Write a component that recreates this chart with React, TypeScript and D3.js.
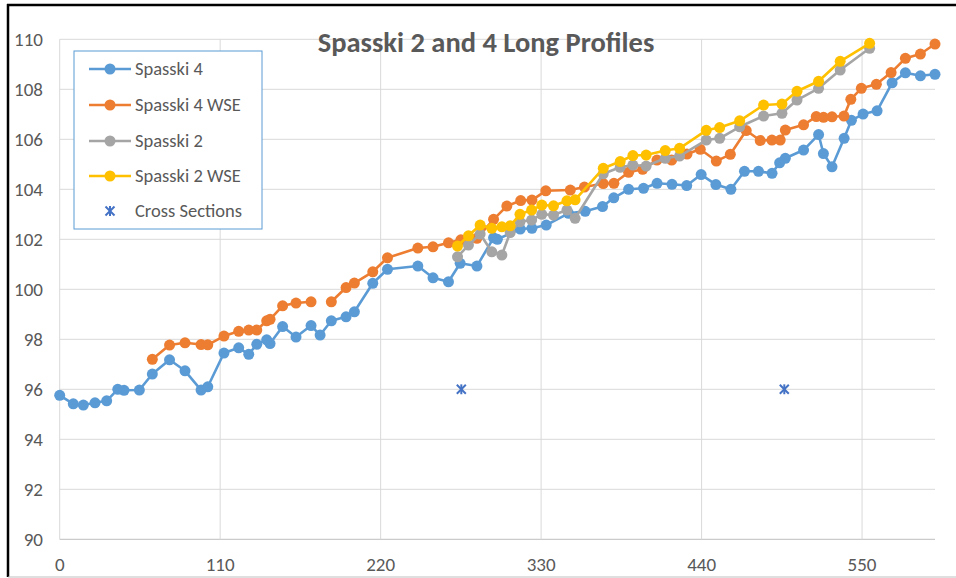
import React from "react";
import * as d3 from "d3";

const s4Station = [0, 9.3, 16.2, 24.2, 32.2, 39.8, 44.1, 54.6, 63.5, 75.3, 85.9, 96.9, 101.5, 112.6, 122.7, 129.6, 135.1, 141.9, 144.2, 152.8, 162, 172.3, 178.5, 186.2, 196.3, 202, 214.6, 224.7, 245.5, 255.9, 266.5, 274.5, 286, 297.4, 300, 315.7, 323.7, 333.5, 348.8, 360.2, 372.1, 379.8, 390, 400.2, 409.5, 419.7, 429.8, 439.7, 449.8, 460.1, 469.4, 479, 488.3, 493.5, 497.4, 509.9, 520.2, 523.5, 529.4, 537.7, 542.7, 550.7, 560.3, 570.6, 579.7, 590, 600];
const s4Elev = [95.76, 95.42, 95.37, 95.46, 95.54, 96.0, 95.96, 95.97, 96.61, 97.18, 96.74, 95.97, 96.1, 97.45, 97.66, 97.4, 97.8, 97.98, 97.83, 98.51, 98.09, 98.55, 98.17, 98.74, 98.9, 99.1, 100.24, 100.8, 100.93, 100.46, 100.3, 101.04, 100.93, 102.06, 102.0, 102.41, 102.44, 102.57, 103.04, 103.12, 103.31, 103.66, 104.0, 104.04, 104.24, 104.2, 104.15, 104.59, 104.19, 104.0, 104.72, 104.72, 104.64, 105.06, 105.24, 105.57, 106.19, 105.43, 104.9, 106.04, 106.76, 107.01, 107.14, 108.26, 108.66, 108.54, 108.6];

const s4WseStation = [63.5, 75.3, 85.9, 96.9, 101.5, 112.6, 122.7, 129.6, 135.1, 141.9, 144.2, 152.8, 162, 172.3, 178.5, 186.2, 196.3, 202, 214.6, 224.7, 245.5, 255.9, 266.5, 275, 286, 297.4, 306.5, 316, 323.7, 333.2, 350, 359.7, 372.6, 379.9, 390, 399.6, 409.4, 419.5, 430, 439.1, 450.1, 459.7, 470.6, 480.2, 488.2, 493.9, 497.4, 509.9, 518.6, 523.6, 529.4, 537.6, 542.3, 549.5, 559.8, 569.9, 579.7, 590, 600];
const s4Wse: (number | null)[] = [97.2, 97.77, 97.86, 97.79, 97.78, 98.13, 98.32, 98.37, 98.37, 98.74, 98.8, 99.34, 99.45, 99.5, null, 99.5, 100.07, 100.25, 100.7, 101.26, 101.65, 101.7, 101.86, 101.98, 102.04, 102.8, 103.33, 103.55, 103.57, 103.94, 103.97, 104.09, 104.23, 104.24, 104.68, 104.8, 105.17, 105.17, 105.41, 105.6, 105.13, 105.4, 106.35, 105.95, 105.97, 105.97, 106.37, 106.58, 106.91, 106.88, 106.9, 106.93, 107.6, 108.04, 108.2, 108.67, 109.24, 109.41, 109.81];

const s2Station = [272.7, 280.2, 288.2, 296.2, 303.1, 308.8, 315.5, 323.5, 330.5, 338.5, 347.7, 353.3, 372.6, 384.2, 392.9, 402, 415.1, 424.9, 443.2, 452.4, 466.1, 482.5, 495.1, 505.4, 520.2, 535, 555.2];
const s2Elev = [101.3, 101.77, 102.21, 101.5, 101.37, 102.27, 102.7, 102.77, 103.0, 102.97, 103.17, 102.84, 104.62, 104.88, 104.97, 104.93, 105.24, 105.33, 105.97, 106.04, 106.5, 106.93, 107.04, 107.57, 108.04, 108.77, 109.64];
const s2Wse = [101.73, 102.14, 102.57, 102.44, 102.5, 102.54, 103.0, 103.17, 103.37, 103.34, 103.54, 103.58, 104.84, 105.11, 105.35, 105.37, 105.55, 105.64, 106.36, 106.47, 106.74, 107.37, 107.41, 107.92, 108.32, 109.12, 109.84];

const xsStation = [275.3, 496.7];
const xsElev = [96.0, 96.0];

const xTicks = [0, 110, 220, 330, 440, 550];
const yTicks = [90, 92, 94, 96, 98, 100, 102, 104, 106, 108, 110];

const seriesNames = ["Spasski 4", "Spasski 4 WSE", "Spasski 2", "Spasski 2 WSE", "Cross Sections"];
const seriesColors = ["#5b9bd5", "#ed7d31", "#a5a5a5", "#ffc000", "#4472c4"];

const W = 956, H = 578;
const FONT = "Calibri, Carlito, 'Liberation Sans Narrow', 'Open Sans', sans-serif";

export default function App() {
  const x = d3.scaleLinear().domain([0, 600]).range([59.7, 935]);
  const y = d3.scaleLinear().domain([90, 110]).range([539.3, 39.3]);

  const series = [
    { xs: s4Station, ys: s4Elev as (number | null)[], color: seriesColors[0] },
    { xs: s4WseStation, ys: s4Wse, color: seriesColors[1] },
    { xs: s2Station, ys: s2Elev as (number | null)[], color: seriesColors[2] },
    { xs: s2Station, ys: s2Wse as (number | null)[], color: seriesColors[3] },
  ];

  const line = d3
    .line<[number, number | null]>()
    .defined((d) => d[1] !== null)
    .x((d) => x(d[0]))
    .y((d) => y(d[1] as number));

  const star = (cx: number, cy: number, r: number, color: string, key: string) => (
    <g key={key} stroke={color} strokeWidth={2}>
      <line x1={cx - r} y1={cy - r} x2={cx + r} y2={cy + r} />
      <line x1={cx - r} y1={cy + r} x2={cx + r} y2={cy - r} />
      <line x1={cx} y1={cy - r * 1.1} x2={cx} y2={cy + r * 1.1} />
    </g>
  );

  const legendX = 74, legendY = 51, legendW = 188, legendH = 178;
  const rowY = [69, 105, 141, 176, 211];

  return (
    <svg width={W} height={H} style={{ position: "absolute", left: 0, top: 0, background: "#fff" }} fontFamily={FONT}>
      <rect x={0} y={0} width={W} height={H} fill="#fff" />
      {/* grid */}
      {yTicks.map((t) => (
        <line key={"gy" + t} x1={x(0)} x2={x(600)} y1={y(t)} y2={y(t)} stroke={t === 90 ? "#bfbfbf" : "#d9d9d9"} strokeWidth={1} />
      ))}
      {xTicks.map((t) => (
        <line key={"gx" + t} x1={x(t)} x2={x(t)} y1={y(110)} y2={y(90)} stroke="#d9d9d9" strokeWidth={1} />
      ))}
      {/* tick labels */}
      {yTicks.map((t) => (
        <text key={"ty" + t} x={43} y={y(t)} dy="0.35em" textAnchor="end" fontSize={19} fill="#595959">{t}</text>
      ))}
      {xTicks.map((t) => (
        <text key={"tx" + t} x={x(t)} y={564} dy="0.35em" textAnchor="middle" fontSize={19} fill="#595959">{t}</text>
      ))}
      {/* series */}
      {series.map((s, i) => {
        const pts = s.xs.map((v, j) => [v, s.ys[j]] as [number, number | null]);
        return (
          <g key={"s" + i}>
            <path d={line(pts) || ""} fill="none" stroke={s.color} strokeWidth={2.6} strokeLinejoin="round" />
            {pts.filter((p) => p[1] !== null).map((p, j) => (
              <circle key={j} cx={x(p[0])} cy={y(p[1] as number)} r={5.5} fill={s.color} />
            ))}
          </g>
        );
      })}
      {xsStation.map((v, i) => star(x(v), y(xsElev[i]), 4.5, seriesColors[4], "xs" + i))}
      {/* title */}
      <text x={486} y={42} dy="0.35em" textAnchor="middle" fontSize={28.5} fontWeight="bold" fill="#595959">Spasski 2 and 4 Long Profiles</text>
      {/* legend */}
      <rect x={legendX} y={legendY} width={legendW} height={legendH} fill="#fff" stroke="#5b9bd5" strokeWidth={1} />
      {seriesNames.map((n, i) => (
        <g key={"lg" + i}>
          {i < 4 ? (
            <g>
              <line x1={89} x2={131} y1={rowY[i]} y2={rowY[i]} stroke={seriesColors[i]} strokeWidth={2.6} />
              <circle cx={110} cy={rowY[i]} r={5.5} fill={seriesColors[i]} />
            </g>
          ) : (
            star(110, rowY[i], 4.5, seriesColors[4], "lgs")
          )}
          <text x={135} y={rowY[i]} dy="0.35em" fontSize={18.5} fill="#595959">{n}</text>
        </g>
      ))}
      {/* frame */}
      <line x1={8} x2={8} y1={4} y2={577} stroke="#000" strokeWidth={2.5} />
      <line x1={7} x2={W} y1={5} y2={5} stroke="#000" strokeWidth={2.5} />
      <line x1={8} x2={W} y1={577} y2={577} stroke="#bfbfbf" strokeWidth={1} />
    </svg>
  );
}
